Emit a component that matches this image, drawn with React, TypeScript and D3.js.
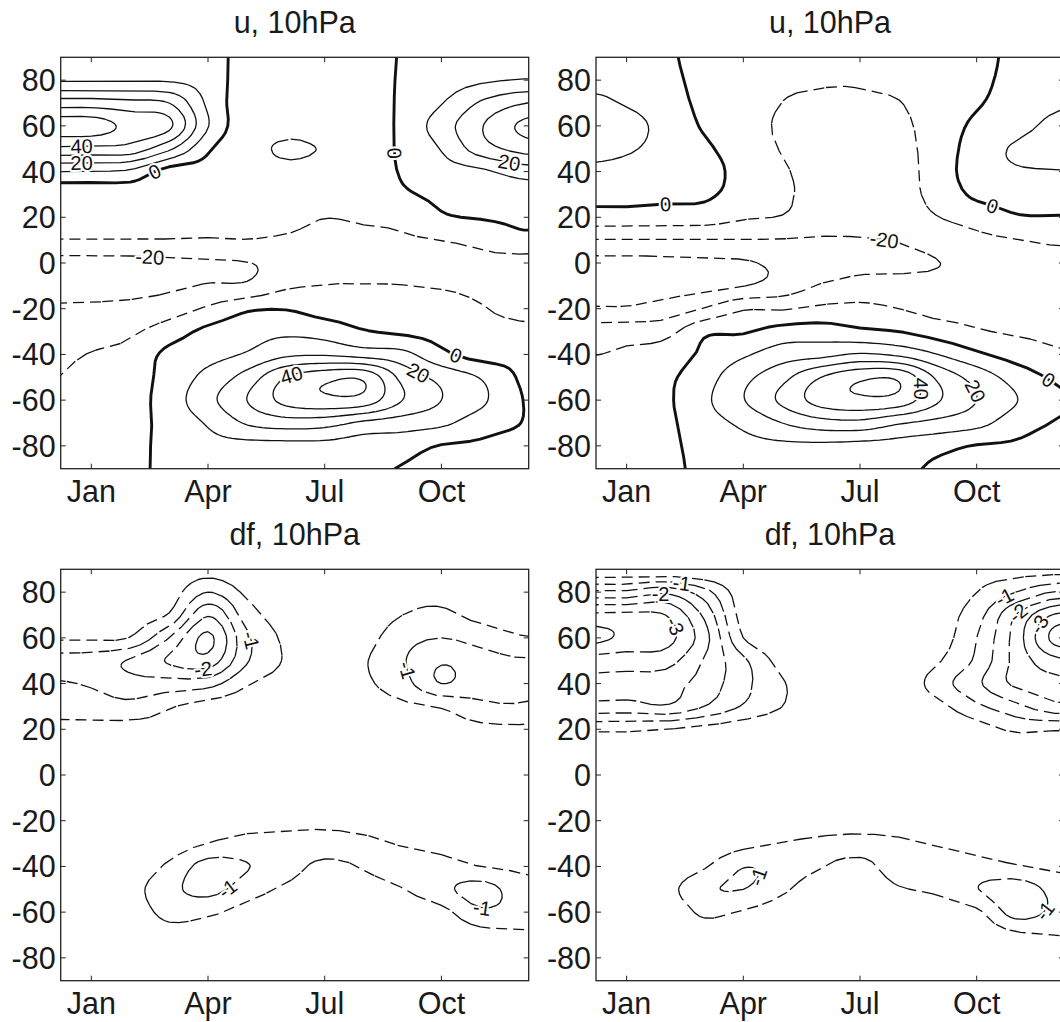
import React, { useMemo } from "react";
import * as d3 from "d3";

// ---------------- data ----------------
const gridMonths = [0, 1, 2, 3, 4, 5, 6, 7, 8, 9, 10, 11, 12, 13]; // 1 = Jan
const gridLats = [90, 80, 70, 60, 50, 40, 30, 20, 10, 0, -10, -20, -30, -40, -50, -60, -70, -80, -90];
const monthTicks = [1, 4, 7, 10];
const monthLabels = ["Jan", "Apr", "Jul", "Oct"];
const latTicks = [80, 60, 40, 20, 0, -20, -40, -60, -80];
const uLevels = [-30, -20, -10, 0, 10, 20, 30, 40, 50];
const dfLevels = [-4, -3.5, -3, -2.5, -2, -1.5, -1, -0.5];

// zonal wind u (m/s), rows = gridLats, cols = gridMonths
const uLeft = [
  [2, 2, 2, 2, 4, -4, -5, -5, -7, 1, 3, 4, 4, 4],
  [9, 9, 9, 9, 5.5, -5, -6, -6, -7, 1.5, 5, 8.5, 10.5, 11],
  [35, 35, 33, 30, 8, -6, -7, -7, -7, 2, 9.5, 21, 29, 32],
  [55, 55, 47, 42, 10.5, -6.5, -8.5, -7.5, -7, 2.5, 15, 29, 41, 46],
  [38, 37, 36, 22, 1.5, -7.5, -10.6, -9.6, -7, 2, 10.5, 25, 33, 37],
  [10, 9.5, 8, -4, -4, -8, -9, -8, -7, 1, 6, 8, 14, 16],
  [-7, -7, -6, -7, -8, -8.5, -9, -8, -7, -1.5, 2, 3, 4, 5],
  [-8.5, -8.5, -8.5, -9, -9.5, -9, -8.5, -9.9, -9.2, -7.5, -1.2, 0.5, 1.5, 1.5],
  [-10.3, -10.3, -10.3, -10.3, -10.5, -10.2, -11, -12, -11.5, -11, -9.9, -7.5, -2.5, -3],
  [-24, -24, -23.5, -22, -21, -20.3, -17, -13, -12.5, -12.5, -13, -12.5, -14, -15],
  [-25.5, -25, -24, -21.5, -19.3, -18.5, -11.5, -9.8, -9.7, -9.8, -11, -13, -14, -15],
  [-18.5, -18, -17, -14.5, -8.5, -1.5, -0.5, -4, -5, -4, -3, -9, -13, -13],
  [-16, -14, -11.5, -5, 2.5, 6, 8, 6, 0.8, -1.5, -3, -6, -7, -9],
  [-13, -9.5, -7, 2.5, 6.5, 11, 18, 19, 16, 13, 2.5, -3.5, -3, -5],
  [-10.5, -6, -5, 4, 13, 24, 40, 47, 48, 27, 17, 9.5, -0.8, -8],
  [-8, -4, -4, 5, 17, 30, 43, 47.5, 46, 30, 20, 12, 1, -8],
  [-6, -3, -4, 4, 11, 21, 25, 24, 18, 15, 12, 5, 0.3, -8],
  [-5, -3, -4, 4, 7, 7, 7, 7, 5, 4, -0.5, -1.7, -5, -6],
  [-5, -3, -4, 4, 5, 5, 4, 3, 1.5, -0.5, -4, -5, -7, -8],
];

const uRight = [
  [6, 6, 2, -4, -5, -8, -8.5, -8.5, -7, -4, -4, 3, 4, 5],
  [9, 8.5, 3.5, -3.5, -5, -8.5, -9.5, -9.5, -8, -4.5, -3, 4, 6, 7],
  [11, 9.5, 5, -2.5, -5, -10.1, -11, -11, -10.3, -5, -1, 5, 8.5, 10],
  [15, 13, 7, -1, -5, -11.5, -12.5, -13, -12, -5.5, 2, 7, 12, 14],
  [13, 11, 7, 1.5, -4.5, -10.5, -13, -14, -12.5, -6, 5, 11, 14, 16],
  [8, 7, 5, 3.5, -3.5, -9, -13, -14, -13, -6, 6, 9, 9.5, 10],
  [3, 3, 2, 1.5, -4, -8.5, -13, -14, -13, -7, 2, 4, 4, 4],
  [-4, -4, -4.5, -5, -9, -10.5, -15, -16, -14.5, -10.2, -6, -1, -0.5, -1],
  [-20.5, -20.5, -20.5, -20.5, -20.3, -20.5, -21, -20.5, -19.5, -16, -12.5, -10.3, -8.5, -8],
  [-33, -33, -32.5, -32, -31, -28, -26, -23, -22.5, -20.2, -17, -14.5, -14, -14],
  [-34, -34, -33.5, -33, -30.2, -26, -19, -16, -16, -17, -16, -15, -16, -16],
  [-29, -29, -26, -19, -11, -11, -8, -7.5, -10, -13.5, -13, -13.5, -14, -15],
  [-15, -14, -13, -2, -1, 4, 5, 2, 0, -4.5, -9, -11, -12, -13],
  [-10.5, -8.5, -6, 2, 8.5, 15, 17, 21, 18, 10, 2, -4, -8.5, -10],
  [-6, -5, -2, 6, 17, 27, 40, 48, 48, 28, 16, 6, -1.5, -5],
  [-5, -4, -1.5, 8, 19.5, 32, 44, 48, 46, 31, 20, 10.5, 2.5, -2],
  [-5, -4, -2, 6, 12, 20, 26, 27, 21, 17, 13, 5, -0.5, -3],
  [-5, -4, -2.5, 4, 7, 8, 8, 7, 6, 3, -0.5, -1.5, -5, -6],
  [-5, -4, -3, 3, 5, 5, 4, 3, 2, -1.5, -4, -5, -7, -8],
];

// wave drag df, rows = gridLats, cols = gridMonths
const dfLeft = [
  [-0.1, -0.1, -0.1, -0.15, -0.3, -0.1, 0, 0, 0, -0.05, -0.1, 0, 0, 0],
  [-0.2, -0.2, -0.2, -0.25, -1.0, -0.4, -0.1, 0, -0.05, -0.3, -0.35, -0.15, -0.1, -0.1],
  [-0.35, -0.35, -0.3, -0.55, -1.95, -0.75, -0.25, -0.05, -0.15, -0.5, -0.6, -0.35, -0.25, -0.25],
  [-0.45, -0.45, -0.52, -1.5, -2.6, -1.1, -0.4, -0.1, -0.3, -0.8, -1.0, -0.8, -0.55, -0.5],
  [-1.2, -1.25, -1.55, -2.05, -2.3, -1.05, -0.45, -0.15, -0.45, -0.95, -1.45, -1.2, -1.05, -1.1],
  [-0.95, -1.05, -1.3, -1.3, -1.2, -0.55, -0.3, -0.1, -0.4, -0.8, -1.5, -1.15, -1.15, -1.05],
  [-0.7, -0.75, -0.85, -0.55, -0.3, -0.2, -0.1, -0.05, -0.25, -0.4, -0.55, -0.9, -0.95, -0.8],
  [-0.35, -0.35, -0.3, -0.3, -0.1, -0.05, 0, 0, -0.05, -0.15, -0.2, -0.35, -0.4, -0.35],
  [-0.1, -0.1, -0.1, -0.1, 0, 0, 0, 0, 0, 0, 0, -0.1, -0.1, -0.1],
  [0, 0, 0, 0, 0, 0, 0, 0, 0, 0, 0, 0, 0, 0],
  [0, 0, 0, 0, 0, -0.05, 0, 0, 0, 0, 0, 0, 0, 0],
  [0, 0, 0, -0.05, -0.1, -0.25, -0.3, -0.3, -0.2, -0.1, -0.05, 0, 0, 0],
  [0, 0, -0.05, -0.2, -0.52, -0.7, -0.7, -0.75, -0.65, -0.45, -0.3, -0.15, -0.1, -0.05],
  [0, 0, -0.15, -0.6, -1.2, -1.02, -0.75, -0.35, -0.55, -0.8, -0.7, -0.5, -0.4, -0.3],
  [0, 0, -0.3, -0.85, -1.15, -0.75, -0.4, -0.1, -0.2, -0.48, -0.85, -1.2, -0.75, -0.6],
  [0, 0, -0.2, -0.65, -0.6, -0.3, -0.1, 0, 0, -0.15, -0.35, -0.9, -0.8, -0.7],
  [0, 0, -0.05, -0.3, -0.2, -0.1, 0, 0, 0, 0, -0.1, -0.3, -0.4, -0.45],
  [0, 0, 0, -0.1, -0.05, 0, 0, 0, 0, 0, 0, -0.05, -0.1, -0.15],
  [0, 0, 0, 0, 0, 0, 0, 0, 0, 0, 0, 0, 0, 0],
];

const dfRight = [
  [-0.05, -0.05, -0.05, 0, 0, 0, 0, 0, 0, -0.05, -0.3, -0.3, -0.3, -0.3],
  [-1.6, -1.6, -1.9, -1.2, -0.2, 0, 0, 0, 0, -0.15, -0.5, -1.0, -1.55, -1.6],
  [-3.1, -3.1, -3.0, -1.9, -0.3, 0, 0, 0, 0, -0.25, -0.8, -2.0, -3.05, -3.1],
  [-3.65, -3.4, -3.2, -2.2, -0.5, -0.1, 0, 0, 0, -0.25, -1.0, -2.2, -3.65, -3.7],
  [-2.8, -2.7, -2.7, -1.95, -1.1, -0.3, 0, 0, -0.05, -0.45, -1.1, -2.15, -2.85, -3.0],
  [-2.3, -2.3, -2.2, -1.8, -1.15, -0.55, -0.1, 0, -0.1, -0.75, -1.4, -2.1, -2.3, -2.4],
  [-1.85, -1.8, -1.95, -1.5, -0.95, -0.5, -0.1, 0, -0.05, -0.35, -0.9, -1.35, -1.85, -1.9],
  [-0.6, -0.6, -0.5, -0.35, -0.2, -0.1, 0, 0, 0, -0.1, -0.25, -0.6, -0.55, -0.6],
  [0, 0, -0.05, 0, 0, 0, 0, 0, 0, 0, 0, 0, 0, 0],
  [0, 0, 0, 0, 0, 0, 0, 0, 0, 0, 0, 0, 0, 0],
  [0, 0, 0, 0, 0, 0, 0, 0, 0, 0, 0, 0, 0, 0],
  [0, 0, 0, 0, -0.05, -0.1, -0.2, -0.2, -0.2, -0.1, -0.05, 0, 0, 0],
  [0, 0, 0, -0.1, -0.35, -0.52, -0.6, -0.65, -0.6, -0.45, -0.3, -0.15, -0.1, -0.05],
  [0, 0, -0.1, -0.45, -0.98, -0.8, -0.52, -0.35, -0.75, -0.8, -0.7, -0.55, -0.4, -0.3],
  [0, 0, -0.3, -0.9, -1.0, -0.6, -0.15, -0.1, -0.45, -0.6, -0.98, -1.3, -0.85, -0.7],
  [0, 0, -0.1, -0.6, -0.45, -0.2, 0, 0, -0.1, -0.2, -0.4, -1.2, -0.9, -0.8],
  [0, 0, 0, -0.2, -0.1, 0, 0, 0, 0, 0, -0.1, -0.4, -0.5, -0.55],
  [0, 0, 0, 0, 0, 0, 0, 0, 0, 0, 0, -0.1, -0.15, -0.2],
  [0, 0, 0, 0, 0, 0, 0, 0, 0, 0, 0, 0, 0, 0],
];

// inline contour labels: [month, lat, level]
const uLeftLabels = [
  [0.69, 50.9, 40], [0.69, 44, 20], [2.64, 39.2, 0], [11.73, 44, 20], [8.76, 48, 0],
  [2.55, 1.3, -20], [10.4, -38.8, 0], [9.56, -44.7, 20], [6.19, -49.1, 40],
];
const uRightLabels = [
  [1.99, 23.9, 0], [10.42, 23.9, 0], [7.64, 10.1, -20], [9.12, -55.5, 40], [10.38, -52.6, 20], [11.77, -52.4, 0],
];
const dfLeftLabels = [
  [5.04, 58.3, -1], [3.93, 46.7, -2], [9.16, 45.9, -1], [4.55, -51, -1], [11.07, -56.8, -1],
];
const dfRightLabels = [
  [2.38, 81.7, -1], [1.91, 76.6, -2], [2.3, 65.6, -3], [10.64, 78.8, -1], [11.03, 72.2, -2],
  [11.6, 66.4, -3], [4.34, -44.5, -1], [11.5, -56.2, -1],
];

// ---------------- layout ----------------
const FONT = "'Liberation Sans', Arial, Helvetica, sans-serif";
const PW = 468;
const PH = 411.4;
const PX_PER_MONTH = 38.9;
const M_LEFT = 1 - 30.6 / PX_PER_MONTH;
const SUB_X = 8; // fine samples per month
const SUB_Y = 10; // fine samples per 10 deg
const TICK_FS = 30.5;

const panelDefs = [
  { key: "a", title: "u, 10hPa", x0: 60.7, y0: 57.3, grid: uLeft, levels: uLevels, labels: uLeftLabels },
  { key: "b", title: "u, 10hPa", x0: 596, y0: 57.3, grid: uRight, levels: uLevels, labels: uRightLabels },
  { key: "c", title: "df, 10hPa", x0: 60.7, y0: 569.3, grid: dfLeft, levels: dfLevels, labels: dfLeftLabels },
  { key: "d", title: "df, 10hPa", x0: 596, y0: 569.3, grid: dfRight, levels: dfLevels, labels: dfRightLabels },
];

// ---------------- helpers ----------------
function cr(p0: number, p1: number, p2: number, p3: number, t: number) {
  return 0.5 * (2 * p1 + (-p0 + p2) * t + (2 * p0 - 5 * p1 + 4 * p2 - p3) * t * t + (-p0 + 3 * p1 - 3 * p2 + p3) * t * t * t);
}
function clamp(v: number, a: number, b: number) {
  return v < a ? a : v > b ? b : v;
}
function bicubic(grid: number[][], r: number, c: number) {
  const R = grid.length, C = grid[0].length;
  const r0 = Math.min(Math.floor(r), R - 1), c0 = Math.min(Math.floor(c), C - 1);
  const tr = r - r0, tc = c - c0;
  const rows: number[] = [];
  for (let dr = -1; dr <= 2; dr++) {
    const row = grid[clamp(r0 + dr, 0, R - 1)];
    const v: number[] = [];
    for (let dc = -1; dc <= 2; dc++) v.push(row[clamp(c0 + dc, 0, C - 1)]);
    rows.push(cr(v[0], v[1], v[2], v[3], tc));
  }
  return cr(rows[0], rows[1], rows[2], rows[3], tr);
}

function rdp(pts: number[][], eps: number): number[][] {
  if (pts.length < 3) return pts.slice();
  const keep = new Uint8Array(pts.length);
  keep[0] = 1;
  keep[pts.length - 1] = 1;
  const stack: [number, number][] = [[0, pts.length - 1]];
  while (stack.length) {
    const [a, b] = stack.pop() as [number, number];
    if (b - a < 2) continue;
    const [ax, ay] = pts[a], [bx, by] = pts[b];
    const dx = bx - ax, dy = by - ay;
    const L = Math.hypot(dx, dy);
    let maxD = -1, idx = -1;
    for (let i = a + 1; i < b; i++) {
      const d = L < 1e-6
        ? Math.hypot(pts[i][0] - ax, pts[i][1] - ay)
        : Math.abs(dy * (pts[i][0] - ax) - dx * (pts[i][1] - ay)) / L;
      if (d > maxD) { maxD = d; idx = i; }
    }
    if (maxD > eps && idx > 0) {
      keep[idx] = 1;
      stack.push([a, idx], [idx, b]);
    }
  }
  return pts.filter((_, i) => keep[i]);
}

function buildPanel(def: any) {
  const { grid, levels, x0, y0 } = def;
  const R = grid.length, C = grid[0].length;
  const nx = (C - 1) * SUB_X + 1, ny = (R - 1) * SUB_Y + 1;
  const vals: number[] = new Array(nx * ny);
  for (let j = 0; j < ny; j++) {
    for (let i = 0; i < nx; i++) vals[j * nx + i] = bicubic(grid, j / SUB_Y, i / SUB_X);
  }
  const xs = d3.scaleLinear().domain([M_LEFT, M_LEFT + PW / PX_PER_MONTH]).range([x0, x0 + PW]);
  const ys = d3.scaleLinear().domain([gridLats[gridLats.length - 1], gridLats[0]]).range([y0 + PH, y0]);
  const latStep = (gridLats[0] - gridLats[1]) / SUB_Y;
  const toPx = (p: number[]) => {
    const m = gridMonths[0] + (p[0] - 0.5) / SUB_X;
    const lat = gridLats[0] - (p[1] - 0.5) * latStep;
    return [xs(m), ys(lat)];
  };
  const isB = (p: number[]) => p[0] < 0.25 || p[0] > nx - 0.25 || p[1] < 0.25 || p[1] > ny - 0.25;
  const mps = d3.contours().size([nx, ny]).thresholds(levels)(vals);
  const byLevel: any[] = [];
  for (const mp of mps) {
    const lines: { pts: number[][]; closed: boolean }[] = [];
    for (const poly of mp.coordinates) {
      for (const ring of poly) {
        const n = ring.length - 1;
        let s = -1;
        for (let i = 0; i < n; i++) if (isB(ring[i])) { s = i; break; }
        if (s < 0) {
          lines.push({ pts: ring.slice(0, n).map(toPx), closed: true });
          continue;
        }
        let cur: number[][] = [];
        for (let k = 1; k <= n; k++) {
          const p = ring[(s + k) % n];
          if (isB(p)) {
            if (cur.length > 1) lines.push({ pts: cur.map(toPx), closed: false });
            cur = [];
          } else cur.push(p);
        }
        if (cur.length > 1) lines.push({ pts: cur.map(toPx), closed: false });
      }
    }
    byLevel.push({ level: mp.value, lines });
  }
  const contourPaths = byLevel.map((g) => {
    let d = "";
    if (g.level < 0) {
      // dash pattern restarts at every vertex of the simplified line (plotting-package look)
      for (const ln of g.lines) {
        const pts = ln.closed ? [...ln.pts, ln.pts[0]] : ln.pts;
        const sp = rdp(pts, 0.55);
        for (let i = 0; i < sp.length - 1; i++) {
          d += `M${sp[i][0].toFixed(1)},${sp[i][1].toFixed(1)}L${sp[i + 1][0].toFixed(1)},${sp[i + 1][1].toFixed(1)}`;
        }
      }
    } else {
      for (const ln of g.lines) {
        const sp = ln.closed ? ln.pts : rdp(ln.pts, 0.3);
        d += "M" + sp.map((p) => `${p[0].toFixed(1)},${p[1].toFixed(1)}`).join("L") + (ln.closed ? "Z" : "");
      }
    }
    return { level: g.level, d };
  });
  // labels
  const labels: any[] = [];
  for (const [m, lat, level] of def.labels) {
    const g = byLevel.find((b) => Math.abs(b.level - level) < 1e-9);
    if (!g) continue;
    const tx = xs(m), ty = ys(lat);
    let best = Infinity, bl: any = null, bi = -1;
    for (const ln of g.lines) {
      ln.pts.forEach((p: number[], i: number) => {
        const d = Math.hypot(p[0] - tx, p[1] - ty);
        if (d < best) { best = d; bl = ln; bi = i; }
      });
    }
    if (!bl || best > 45) continue;
    const n = bl.pts.length;
    const ia = bl.closed ? (bi - 3 + n) % n : Math.max(0, bi - 3);
    const ib = bl.closed ? (bi + 3) % n : Math.min(n - 1, bi + 3);
    let ang = (Math.atan2(bl.pts[ib][1] - bl.pts[ia][1], bl.pts[ib][0] - bl.pts[ia][0]) * 180) / Math.PI;
    if (ang > 90) ang -= 180;
    if (ang < -90) ang += 180;
    const p = bl.pts[bi];
    const px = clamp(p[0], x0 + 10, x0 + PW - 10);
    labels.push({ x: px, y: p[1], ang, text: String(level) });
  }
  return { ...def, xs, ys, contourPaths, labels };
}

export default function App() {
  const panels = useMemo(() => panelDefs.map(buildPanel), []);
  return (
    <svg
      width={1060}
      height={1022}
      viewBox="0 0 1060 1022"
      style={{ position: "absolute", left: 0, top: 0, background: "#fff" }}
      fontFamily={FONT}
    >
      <defs>
        {panels.map((p) => (
          <clipPath id={`clip-${p.key}`} key={p.key}>
            <rect x={p.x0} y={p.y0} width={PW} height={PH} />
          </clipPath>
        ))}
      </defs>
      {panels.map((p) => (
        <g key={p.key}>
          <text x={p.x0 + PW / 2} y={p.y0 - 24} textAnchor="middle" fontSize={TICK_FS} fill="#1a1a1a">
            {p.title}
          </text>
          <g clipPath={`url(#clip-${p.key})`}>
            {p.contourPaths.map((c: any) => (
              <path
                key={c.level}
                d={c.d}
                fill="none"
                stroke="#111"
                strokeWidth={c.level === 0 ? 2.9 : 1.3}
                strokeDasharray={c.level < 0 ? "11 6" : undefined}
                strokeLinejoin="round"
              />
            ))}
            {p.labels.map((l: any, i: number) => (
              <g key={i} transform={`translate(${l.x.toFixed(1)},${l.y.toFixed(1)}) rotate(${l.ang.toFixed(1)})`}>
                <text
                  textAnchor="middle"
                  dy="0.36em"
                  fontSize={20}
                  fill="#111"
                  stroke="#fff"
                  strokeWidth={4}
                  strokeLinejoin="round"
                  paintOrder="stroke"
                >
                  {l.text}
                </text>
              </g>
            ))}
          </g>
          <rect x={p.x0} y={p.y0} width={PW} height={PH} fill="none" stroke="#222" strokeWidth={1.3} />
          {monthTicks.map((m, i) => {
            const x = p.xs(m);
            return (
              <g key={m}>
                <line x1={x} x2={x} y1={p.y0 + PH} y2={p.y0 + PH - 5} stroke="#222" strokeWidth={1} />
                <line x1={x} x2={x} y1={p.y0} y2={p.y0 + 5} stroke="#222" strokeWidth={1} />
                <text x={x} y={p.y0 + PH + 33.5} textAnchor="middle" fontSize={TICK_FS} fill="#1a1a1a">
                  {monthLabels[i]}
                </text>
              </g>
            );
          })}
          {latTicks.map((lat) => {
            const y = p.ys(lat);
            return (
              <g key={lat}>
                <line x1={p.x0} x2={p.x0 + 5} y1={y} y2={y} stroke="#222" strokeWidth={1} />
                <line x1={p.x0 + PW} x2={p.x0 + PW - 5} y1={y} y2={y} stroke="#222" strokeWidth={1} />
                <text x={p.x0 - 5} y={y} dy="0.36em" textAnchor="end" fontSize={TICK_FS} fill="#1a1a1a">
                  {String(lat)}
                </text>
              </g>
            );
          })}
        </g>
      ))}
    </svg>
  );
}
